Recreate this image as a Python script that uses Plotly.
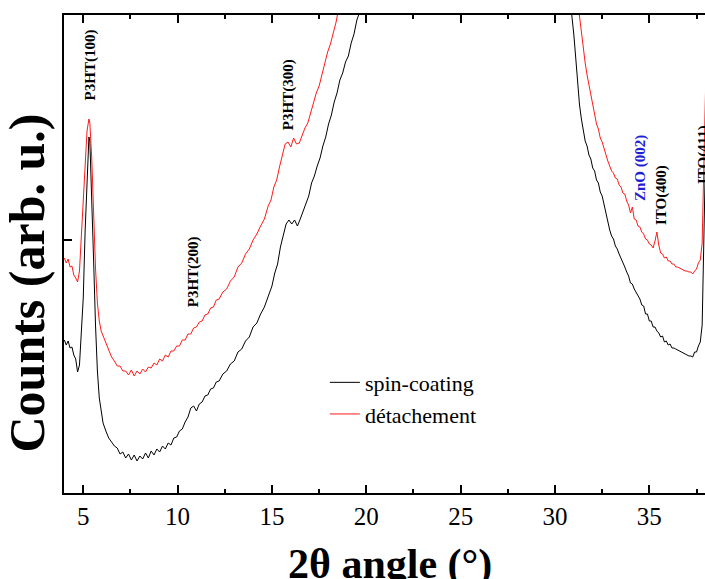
import plotly.graph_objects as go

# ---------------- data ----------------
spin_x = [4.0, 4.1, 4.2, 4.3, 4.4, 4.5, 4.6, 4.7, 4.8, 4.9, 5.0, 5.1, 5.2, 5.3, 5.35, 5.45, 5.55, 5.65, 5.75,
          5.85, 5.95, 6.05, 6.2, 6.35, 6.5, 6.65, 6.8, 6.95, 7.1, 7.25, 7.4, 7.55, 7.7, 7.85, 8.0, 8.15, 8.3,
          8.45, 8.6, 8.75, 8.9, 9.05, 9.2, 9.35, 9.5, 9.65, 9.8, 9.95, 10.1, 10.25, 10.4, 10.55, 10.7, 10.85,
          11.0, 11.15, 11.3, 11.45, 11.6, 11.75, 11.9, 12.05, 12.2, 12.4, 12.6, 12.8, 13.0, 13.2, 13.4, 13.6,
          13.8, 14.0, 14.2, 14.4, 14.6, 14.8, 15.0, 15.15, 15.3, 15.45, 15.6, 15.75, 15.9, 16.05, 16.2, 16.35,
          16.5, 16.65, 16.8, 16.95, 17.1, 17.25, 17.4, 17.55, 17.7, 17.85, 18.0, 18.15, 18.3, 18.45, 18.6,
          18.75, 18.9, 19.05, 19.2, 19.35, 19.5, 19.65, 19.8, 20.0,
          30.6, 30.8, 30.9, 31.0, 31.1, 31.2, 31.3, 31.4, 31.5, 31.6, 31.7, 31.8, 31.9, 32.0, 32.1, 32.2, 32.3,
          32.4, 32.5, 32.6, 32.7, 32.8, 32.9, 33.0, 33.1, 33.2, 33.3, 33.4, 33.5, 33.6, 33.7, 33.8, 33.9, 34.0,
          34.1, 34.2, 34.3, 34.4, 34.5, 34.6, 34.7, 34.8, 34.9, 35.0, 35.1, 35.2, 35.3, 35.4, 35.5, 35.6, 35.7,
          35.8, 35.9, 36.0, 36.1, 36.2, 36.3, 36.4, 36.5, 36.6, 36.7, 36.8, 36.9, 37.0, 37.1, 37.2, 37.3, 37.4,
          37.5, 37.6, 37.7, 37.8, 37.85, 37.9, 37.95, 38.0]
spin_y = [153, 148, 152, 145, 146, 138, 134, 121, 128, 158, 195, 262, 320, 356, 352, 300, 232, 168, 122,
          95, 80, 70, 62, 55, 51, 47, 45, 39, 41, 35, 39, 33, 38, 32, 37, 34, 40,
          35, 42, 38, 44, 41, 47, 44, 50, 48, 55, 56, 62, 64, 71, 76, 85, 87,
          82, 89, 91, 97, 98, 104, 105, 111, 112, 119, 122, 129, 132, 141, 144, 152,
          156, 166, 170, 179, 186, 197, 207, 220, 229, 246, 257, 269, 273, 269, 273, 267,
          274, 282, 291, 297, 310, 317, 327, 335, 347, 356, 369, 378, 391, 400, 413,
          420, 431, 437, 450, 459, 473, 481, 495, 530,
          530, 495, 478, 458, 435, 410, 388, 374, 362, 352, 347, 338, 334, 325, 322, 313, 310,
          301, 297, 288, 281, 270, 263, 257, 254, 247, 244, 239, 235, 230, 226, 221, 217, 210,
          209, 204, 201, 197, 194, 188, 187, 179, 179, 172, 172, 166, 166, 162, 160, 156, 157,
          151, 152, 148, 149, 145, 145, 144, 143, 142, 141, 140, 139, 138, 137, 137, 136, 141,
          141, 147, 151, 168, 215, 290, 330, 360]

det_x = [4.0, 4.1, 4.2, 4.3, 4.4, 4.5, 4.6, 4.7, 4.8, 4.9, 5.0, 5.1, 5.2, 5.3, 5.35, 5.45, 5.55, 5.65, 5.75,
         5.85, 5.95, 6.05, 6.2, 6.35, 6.5, 6.65, 6.8, 6.95, 7.1, 7.25, 7.4, 7.55, 7.7, 7.85, 8.0, 8.15, 8.3,
         8.45, 8.6, 8.75, 8.9, 9.05, 9.2, 9.35, 9.5, 9.65, 9.8, 9.95, 10.1, 10.25, 10.4, 10.55, 10.7, 10.85,
         11.0, 11.15, 11.3, 11.45, 11.6, 11.75, 11.9, 12.05, 12.2, 12.4, 12.6, 12.8, 13.0, 13.2, 13.4, 13.6,
         13.8, 14.0, 14.2, 14.4, 14.6, 14.8, 14.95, 15.1, 15.25, 15.4, 15.55, 15.7, 15.85, 16.0, 16.15, 16.3,
         16.45, 16.6, 16.75, 16.9, 17.05, 17.2, 17.35, 17.5, 17.65, 17.8, 17.95, 18.1, 18.25, 18.4, 18.55,
         18.7, 18.9,
         31.0, 31.15, 31.28, 31.4, 31.5, 31.6, 31.7, 31.8, 31.9, 32.0, 32.1, 32.2, 32.3, 32.4, 32.5, 32.6,
         32.7, 32.8, 32.9, 33.0, 33.1, 33.2, 33.3, 33.4, 33.5, 33.6, 33.7, 33.8, 33.9, 34.0, 34.1, 34.2,
         34.3, 34.4, 34.5, 34.6, 34.7, 34.8, 34.9, 35.0, 35.1, 35.2, 35.3, 35.4, 35.5, 35.6, 35.7, 35.8,
         35.9, 36.0, 36.1, 36.2, 36.3, 36.4, 36.5, 36.6, 36.7, 36.8, 36.9, 37.0, 37.1, 37.2, 37.3, 37.4,
         37.5, 37.6, 37.7, 37.8, 37.85, 37.9, 37.95, 38.0]
det_y = [235, 230, 234, 226, 227, 218, 215, 211, 222, 256, 292, 330, 362, 374, 370, 335, 275, 225, 190,
         172, 162, 157, 150, 143, 136, 132, 127, 127, 122, 122, 118, 123, 117, 122, 119, 124, 121,
         126, 125, 130, 128, 134, 132, 138, 136, 142, 142, 147, 147, 153, 153, 159, 159, 165,
         166, 171, 172, 178, 179, 185, 186, 193, 194, 201, 204, 212, 216, 226, 230, 239,
         244, 253, 259, 267, 274, 287, 293, 306, 313, 326, 337, 349, 351, 346, 355, 349,
         350, 357, 365, 370, 380, 389, 400, 407, 419, 429, 441, 449, 460, 471, 486,
         500, 530,
         530, 500, 478, 460, 443, 430, 418, 408, 397, 387, 377, 369, 364, 355, 351, 344,
         339, 332, 327, 322, 320, 315, 314, 308, 306, 300, 299, 292, 288, 280, 286, 274,
         273, 267, 266, 261, 259, 254, 253, 249, 248, 245, 252, 261, 248, 240, 239, 235,
         236, 232, 232, 229, 229, 226, 226, 225, 224, 223, 222, 222, 221, 221, 219, 222,
         224, 230, 233, 250, 285, 330, 380, 420]

series_names = ["spin-coating", "détachement"]
peak_labels = ["P3HT(100)", "P3HT(200)", "P3HT(300)", "ZnO (002)", "ITO(400)", "ITO(411)"]
peak_x = [5.38, 10.83, 15.86, 34.51, 35.62, 37.85]
peak_y = [428, 221, 398, 325, 298, 338]
peak_colors = ["black", "black", "black", "#1f1fd6", "black", "black"]

x_ticks = [5, 10, 15, 20, 25, 30, 35]

SERIF = "Liberation Serif"

fig = go.Figure()
fig.add_trace(go.Scatter(x=spin_x, y=spin_y, mode="lines", name=series_names[0],
                         line=dict(color="black", width=1)))
fig.add_trace(go.Scatter(x=det_x, y=det_y, mode="lines", name=series_names[1],
                         line=dict(color="#ff1a1a", width=1)))

for lab, px, py, col in zip(peak_labels, peak_x, peak_y, peak_colors):
    fig.add_annotation(x=px, y=py, xref="x", yref="y", text="<b>" + lab + "</b>", showarrow=False,
                       textangle=-90, font=dict(family=SERIF, size=15, color=col))

# axis titles
fig.add_annotation(x=0.509, y=-0.15, xref="paper", yref="paper", text="<b>2θ angle (°)</b>",
                   showarrow=False, xanchor="center", yanchor="middle",
                   font=dict(family=SERIF, size=42, color="black"))
fig.add_annotation(x=-0.058, y=0.44, xref="paper", yref="paper", text="<b>Counts (arb. u.)</b>",
                   showarrow=False, textangle=-90, xanchor="center", yanchor="middle",
                   font=dict(family=SERIF, size=50, color="black"))

fig.update_layout(
    width=705, height=579,
    margin=dict(l=64, r=0, t=15, b=86),
    plot_bgcolor="white", paper_bgcolor="white",
    showlegend=True,
    legend=dict(x=0.407, y=0.275, xanchor="left", yanchor="top", bgcolor="rgba(0,0,0,0)",
                font=dict(family=SERIF, size=22, color="black"), tracegroupgap=0),
    font=dict(family=SERIF, color="black"),
)
fig.update_xaxes(range=[3.98, 37.95], tickvals=x_ticks, ticks="inside", ticklen=8, tickwidth=1.5,
                 tickcolor="black", showline=True, linecolor="black", linewidth=1.5, mirror="ticks",
                 showgrid=False, zeroline=False,
                 minor=dict(dtick=2.5, tick0=2.5, ticks="inside", ticklen=4, tickwidth=1.5, tickcolor="black",
                            showgrid=False),
                 tickfont=dict(family=SERIF, size=25, color="black"))
fig.update_yaxes(range=[0, 478], tickvals=[253], ticks="inside", ticklen=8, tickwidth=1.5, tickcolor="black",
                 showticklabels=False, showline=True, linecolor="black", linewidth=1.5, mirror=False,
                 showgrid=False, zeroline=False)

fig.write_html("out.html", config={"displayModeBar": False},
               post_script="document.body.style.margin='0';document.body.style.overflow='hidden';")
